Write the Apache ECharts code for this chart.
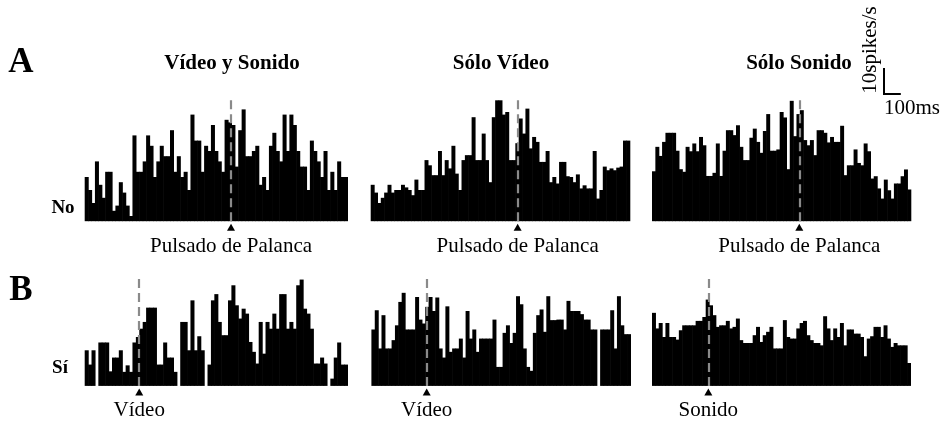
<!DOCTYPE html>
<html><head><meta charset="utf-8">
<script src="https://cdn.jsdelivr.net/npm/echarts@6/dist/echarts.min.js"></script>
<style>html,body{margin:0;padding:0;background:#fff}#c{width:944px;height:424px}</style>
</head><body><div id="c"></div>
<script>
// ---- data (spikes/s per 20 ms bin) ----
const binMs = 20;
const titles = ['Vídeo y Sonido', 'Sólo Vídeo', 'Sólo Sonido'];
const panelLetters = ['A', 'B'];
const rowLabels = ['No', 'Sí'];
const eventLabels = ['Pulsado de Palanca', 'Pulsado de Palanca', 'Pulsado de Palanca', 'Vídeo', 'Vídeo', 'Sonido'];
const startMs = [-856, -872, -875, -318, -327, -334];
const scaleRate = 10;   // spikes/s
const scaleTime = 100;  // ms
const scaleRateLabel = '10spikes/s';
const scaleTimeLabel = '100ms';

const rateA1 = [17,12,7,23,14,9,19,19,4,6,15,11,6,2,33,19,19,23,33,29,17,23,29,25,25,35,19,25,17,19,12,41,31,31,19,29,27,37,27,23,19,39,38,37,21,35,43,25,25,27,29,14,17,12,29,34,27,23,41,27,41,37,27,21,21,12,31,27,23,17,27,12,19,12,23,17,17];
const rateA2 = [14,11,7,9,11,14,11,12,12,14,13,12,10,16,12,12,23.5,21.5,17.7,17.7,27,17.7,23.5,20.3,29,18.3,12,23.5,25.4,25.4,40,23.5,23.5,33.7,23.5,15,40,46.5,46.5,41,42,23.5,23.5,30,39.5,33.7,43.3,28,32.4,30.5,22.8,22.8,27,15,17,14.5,22.8,22.8,17.3,17,15,18,12.6,13.8,12.6,12.6,27,8.7,12,21,19.6,20.3,19.6,20.6,21,31,31];
const rateA3 = [19.2,28.6,25.1,30.5,34,34,34,27.1,20,19,28.6,26.9,29.9,26.9,32.4,29.2,17.4,17.4,18.6,29.9,17.4,27.1,35,35,33.1,36.9,28.6,23.5,23.5,32.1,35.6,30.5,26.3,34.7,41.2,27.1,27.1,27.6,42,39.9,20,46.3,32.7,41.2,42.7,31.2,29.2,31.2,25.4,35,35,34,30.3,32.4,30.5,30.5,36.7,17.7,21.5,21.5,27.6,22.4,21.5,29.9,26.9,16.4,17.3,12.6,8.7,16,11.9,8.7,14.5,14.5,17.3,19.9,12.2];
const rateB1 = [13.7,8.2,13.7,0,16.7,16.7,16.7,5.6,10.9,10.9,13.7,5.4,7.9,5.4,16.7,18.8,22,24.6,30.1,30.1,30.1,8.2,8.2,16.7,10.9,10.9,5.4,0,24.6,24.6,13.7,32.9,13.7,19.1,13.7,0,8.2,32.9,35.3,24.6,19.5,19.5,32.9,38.7,31,25.9,29.7,27.8,16.9,13.1,8.6,24.6,12.4,24.6,22,27.8,22,35.3,35.3,22,24.6,22,38.7,40.9,29.7,27.8,22,8.6,8.6,10.9,8.6,0,2.8,10.9,16.7,8.2,8.2];
const rateB2 = [21.7,29.1,14.4,27.2,14.4,14.4,17.6,23.3,32.3,35.8,21.7,21.7,21.7,34.2,25.5,24,30.4,34.2,28.8,34,14.4,10.9,30.6,13.1,14.4,14.4,18.2,10.9,28.8,18.2,21.7,13.1,18.2,18.2,18.2,18.2,25.5,7.3,7.3,20.4,23.3,16.5,20.4,34.5,31.4,14.4,7.3,5.8,20.4,27.2,29.4,20.8,34.5,25.3,25.3,25.5,25.5,21.7,32.7,28.8,28.8,28.8,27.6,25.5,25.5,21.7,21.7,0,21.7,21.7,21.7,29.1,14.4,34.5,23.3,19.9,19.9];
const rateB3 = [28.1,22.1,24.2,18.8,24.2,18.8,18.8,17.8,21.4,23.3,23.3,23.3,23.3,25,25,26.5,33.2,31,27.2,22.7,23.3,23.3,25,22.1,22.7,25.9,17.6,16.5,16.5,16.5,19.5,22.7,16.9,19.5,20.8,22.7,14.4,14.4,14.4,25.3,18.8,18.2,18.2,22.1,24.2,25,19.5,17.6,16.5,16.5,15.6,26.8,22.1,17.6,22.1,18.8,24.2,15.6,21.7,21.7,20.1,20.1,18.8,11.4,18.2,19.1,22.7,22.7,18.8,23.3,18.2,15,16.5,15.6,15.6,15.6,8.8];

// ---- layout ----
const rates = [rateA1, rateA2, rateA3, rateB1, rateB2, rateB3];
const gridPos = [
  {left: 85,    top: 99,  width: 262.7, height: 122.2},
  {left: 371,   top: 99,  width: 259,   height: 122.2},
  {left: 652.3, top: 99,  width: 258.7, height: 122.2},
  {left: 85,    top: 278, width: 262.7, height: 107.9},
  {left: 371.7, top: 278, width: 259,   height: 107.9},
  {left: 652.3, top: 278, width: 258.4, height: 107.9}
];
const yMax = [47, 47, 47, 41.5, 41.5, 41.5];
const SERIF = 'Liberation Serif';

const chart = echarts.init(document.getElementById('c'), null, {renderer: 'canvas'});

const grids = [], xAxes = [], yAxes = [], series = [];
rates.forEach((r, i) => {
  const g = gridPos[i];
  grids.push({left: g.left, top: g.top, width: g.width, height: g.height, containLabel: false});
  const s0 = startMs[i];
  xAxes.push({type: 'value', gridIndex: i, min: s0, max: s0 + r.length * binMs, show: false});
  yAxes.push({type: 'value', gridIndex: i, min: 0, max: yMax[i], show: false});
  series.push({
    type: 'bar', xAxisIndex: i, yAxisIndex: i, animation: false, silent: true,
    barWidth: '118%',
    itemStyle: {color: '#000', borderWidth: 0},
    data: r.map((v, k) => [s0 + k * binMs + binMs / 2, v]),
    markLine: {
      silent: true, animation: false, symbol: 'none',
      label: {show: false},
      lineStyle: {color: '#8a8a8a', type: [9, 5], width: 2.2},
      data: [[{coord: [0, 0]}, {coord: [0, yMax[i]]}]]
    },
    markPoint: {
      silent: true, animation: false, symbol: 'triangle', symbolSize: [8, 7], symbolOffset: [0, 6],
      itemStyle: {color: '#000'},
      label: {show: true, position: 'bottom', distance: 5, formatter: eventLabels[i],
              color: '#000', fontFamily: SERIF, fontSize: 21},
      data: [{coord: [0, 0], value: 0}]
    }
  });
});

const graphic = [];
const titleX = [232, 501, 799];
titles.forEach((t, i) => graphic.push({type: 'text', x: titleX[i], y: 64,
  style: {text: t, fill: '#000', font: 'bold 21px "Liberation Serif"', textAlign: 'center', textVerticalAlign: 'middle'}}));
const letterY = [63, 291];
panelLetters.forEach((t, i) => graphic.push({type: 'text', x: 21, y: letterY[i],
  style: {text: t, fill: '#000', font: 'bold 35px "Liberation Serif"', textAlign: 'center', textVerticalAlign: 'middle'}}));
const rowXY = [[63, 208], [60, 368]];
rowLabels.forEach((t, i) => graphic.push({type: 'text', x: rowXY[i][0], y: rowXY[i][1],
  style: {text: t, fill: '#000', font: 'bold 19px "Liberation Serif"', textAlign: 'center', textVerticalAlign: 'middle'}}));

chart.setOption({animation: false, backgroundColor: '#fff', grid: grids, xAxis: xAxes, yAxis: yAxes, series: series, graphic: graphic});

// scale bar: lengths from the A3 panel's own scales
const p0 = chart.convertToPixel({gridIndex: 2}, [0, 0]);
const p1 = chart.convertToPixel({gridIndex: 2}, [scaleTime, scaleRate]);
const wPx = p1[0] - p0[0], hPx = p0[1] - p1[1];
const cx = 884, cy = 94;
graphic.push({type: 'polyline', shape: {points: [[cx, cy - hPx], [cx, cy], [cx + wPx, cy]]},
  style: {stroke: '#000', lineWidth: 2, fill: null}});
graphic.push({type: 'text', x: 870, y: 50, rotation: Math.PI / 2,
  style: {text: scaleRateLabel, fill: '#000', font: '21px "Liberation Serif"', textAlign: 'center', textVerticalAlign: 'middle'}});
graphic.push({type: 'text', x: 884, y: 108,
  style: {text: scaleTimeLabel, fill: '#000', font: '21px "Liberation Serif"', textAlign: 'left', textVerticalAlign: 'middle'}});
chart.setOption({graphic: graphic});
</script></body></html>
